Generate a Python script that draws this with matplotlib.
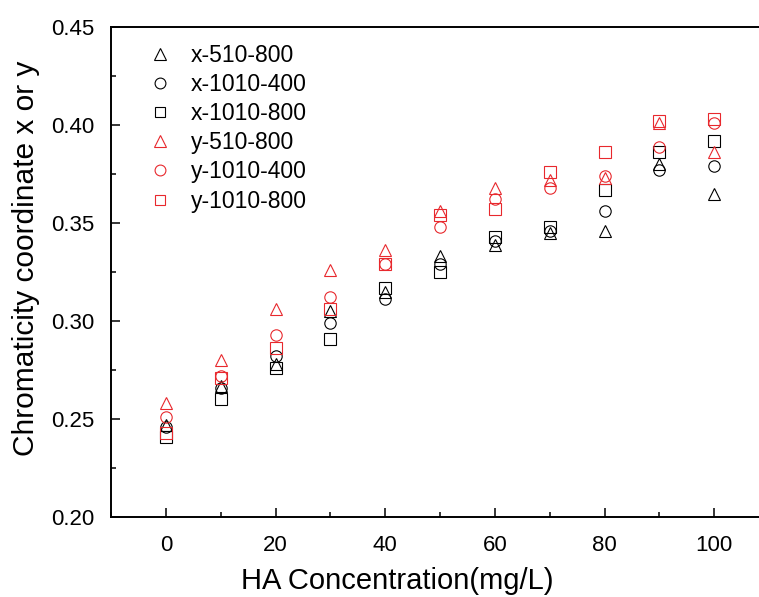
import numpy as np
import matplotlib
matplotlib.use('Agg')
from matplotlib import pyplot as plt
from matplotlib.ticker import MultipleLocator, FormatStrFormatter

plt.rcParams['font.family'] = ['Liberation Sans', 'DejaVu Sans']

# HA 浓度 (mg/L)
conc = [0, 10, 20, 30, 40, 50, 60, 70, 80, 90, 100]

# 色度坐标 x
x_510_800 = [0.247, 0.267, 0.278, 0.305, 0.315, 0.333, 0.339, 0.345, 0.346, 0.380, 0.365]
x_1010_400 = [0.246, 0.266, 0.282, 0.299, 0.311, 0.329, 0.341, 0.346, 0.356, 0.377, 0.379]
x_1010_800 = [0.241, 0.260, 0.276, 0.291, 0.317, 0.325, 0.343, 0.348, 0.367, 0.386, 0.392]
# 色度坐标 y
y_510_800 = [0.258, 0.280, 0.306, 0.326, 0.336, 0.356, 0.368, 0.372, 0.373, 0.401, 0.386]
y_1010_400 = [0.251, 0.272, 0.293, 0.312, 0.329, 0.348, 0.362, 0.368, 0.374, 0.389, 0.401]
y_1010_800 = [0.243, 0.271, 0.286, 0.306, 0.329, 0.354, 0.357, 0.376, 0.386, 0.402, 0.403]

red = '#e8282d'
series = [
    (x_510_800, '^', 'k', 'x-510-800'),
    (x_1010_400, 'o', 'k', 'x-1010-400'),
    (x_1010_800, 's', 'k', 'x-1010-800'),
    (y_510_800, '^', red, 'y-510-800'),
    (y_1010_400, 'o', red, 'y-1010-400'),
    (y_1010_800, 's', red, 'y-1010-800'),
]

fig = plt.figure(figsize=(7.59, 5.97), dpi=100)
ax = fig.add_axes([111 / 759, 80 / 597, 658 / 759, 490 / 597])

for vals, mk, col, lab in series:
    ms = 9 if mk == '^' else 8.2
    ax.plot(conc, vals, linestyle='none', marker=mk, markersize=ms,
            markerfacecolor='none', markeredgecolor=col, markeredgewidth=0.8,
            label=lab)

ax.set_xlim(-10, 110)
ax.set_ylim(0.20, 0.45)
ax.xaxis.set_major_locator(MultipleLocator(20))
ax.xaxis.set_minor_locator(MultipleLocator(10))
ax.yaxis.set_major_locator(MultipleLocator(0.05))
ax.yaxis.set_minor_locator(MultipleLocator(0.025))
ax.yaxis.set_major_formatter(FormatStrFormatter('%.2f'))

ax.spines['right'].set_visible(False)
for s in ['left', 'bottom', 'top']:
    ax.spines[s].set_linewidth(1.4)

ax.tick_params(which='both', direction='in', top=False, right=False, width=1.1)
ax.tick_params(which='major', length=6.5, labelsize=16)
ax.tick_params(which='minor', length=3.5)
ax.tick_params(axis='y', which='major', pad=12)
ax.tick_params(axis='x', which='major', pad=13)

ax.set_xlabel('HA Concentration(mg/L)', fontsize=21)
ax.set_ylabel('Chromaticity coordinate x or y', fontsize=21.5)
ax.xaxis.set_label_coords(0.435, -0.102)
ax.yaxis.set_label_coords(-0.108, 0.527)

leg = ax.legend(loc='upper left', bbox_to_anchor=(0.057, 0.966), frameon=False,
                fontsize=16.5, markerscale=0.95, handlelength=1.0, handletextpad=0.85,
                labelspacing=0.27, borderpad=0, borderaxespad=0)

fig.savefig('out.png', dpi=100)
